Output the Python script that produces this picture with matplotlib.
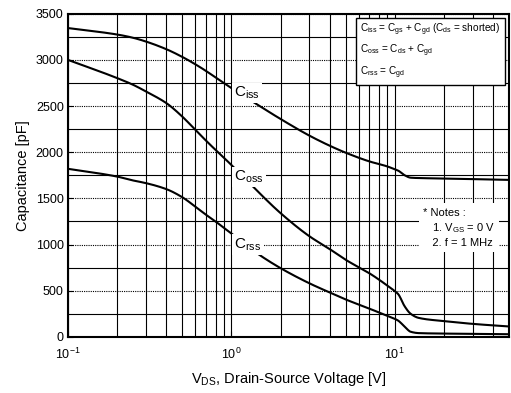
import matplotlib
matplotlib.use("Agg")
import matplotlib.pyplot as plt
from matplotlib.ticker import FixedLocator, LogLocator, NullFormatter
import numpy as np

plt.rcParams['font.family'] = ['Liberation Sans', 'DejaVu Sans']
plt.rcParams['mathtext.default'] = 'regular'

# Datos
vds_iss = [0.1, 0.2, 0.25, 0.3, 0.4, 0.5, 0.6, 0.7, 0.8, 0.9, 1.0, 1.4, 2.0, 3.0, 4.0, 5.0, 7.0, 9.0,
           10.0, 10.5, 11.5, 12.5, 14.0, 20.0, 50.0]
ciss = [3345, 3275, 3240, 3199, 3116, 3033, 2954, 2880, 2810, 2750, 2695, 2530, 2360, 2180, 2070, 1995, 1900, 1846,
        1815, 1800, 1750, 1724, 1720, 1715, 1700]

vds_oss = [0.1, 0.2, 0.25, 0.3, 0.4, 0.5, 0.6, 0.7, 0.8, 0.9, 1.0, 1.45, 2.0, 3.0, 4.0, 5.0, 7.0, 8.0, 9.0,
           10.0, 10.5, 11.5, 12.5, 14.0, 20.0, 30.0, 50.0]
coss = [3000, 2803, 2731, 2658, 2532, 2387, 2245, 2125, 2025, 1940, 1862, 1575, 1340, 1090, 950, 835, 688, 620, 555,
        495, 462, 330, 250, 205, 170, 140, 112]

vds_rss = [0.1, 0.2, 0.25, 0.3, 0.4, 0.5, 0.6, 0.7, 0.8, 0.9, 1.0, 1.45, 2.0, 3.0, 4.0, 5.0, 7.0, 8.0, 9.0,
           10.0, 10.5, 11.5, 12.5, 14.0, 20.0, 50.0]
crss = [1820, 1736, 1694, 1665, 1600, 1513, 1412, 1322, 1250, 1180, 1120, 900, 744, 580, 480, 405, 305, 264, 228,
        195, 175, 110, 55, 40, 35, 28]

y_ticks = [0, 500, 1000, 1500, 2000, 2500, 3000, 3500]


def pchip(x, y, xn):
    # interpolación cúbica monótona (Fritsch-Carlson) para suavizar la curva
    x = np.asarray(x, float)
    y = np.asarray(y, float)
    h = np.diff(x)
    d = np.diff(y) / h
    m = np.zeros_like(y)
    m[0], m[-1] = d[0], d[-1]
    for k in range(1, len(x) - 1):
        if d[k - 1] * d[k] > 0:
            w1 = 2 * h[k] + h[k - 1]
            w2 = h[k] + 2 * h[k - 1]
            m[k] = (w1 + w2) / (w1 / d[k - 1] + w2 / d[k])
    idx = np.clip(np.searchsorted(x, xn) - 1, 0, len(x) - 2)
    t = (xn - x[idx]) / h[idx]
    h00 = 2 * t**3 - 3 * t**2 + 1
    h10 = t**3 - 2 * t**2 + t
    h01 = -2 * t**3 + 3 * t**2
    h11 = t**3 - t**2
    return h00 * y[idx] + h10 * h[idx] * m[idx] + h01 * y[idx + 1] + h11 * h[idx] * m[idx + 1]


fig = plt.figure(figsize=(5.11, 3.93), dpi=100)
ax = fig.add_axes([0.133, 0.143, 0.863, 0.822])

# Curvas
for xs, ys in [(vds_iss, ciss), (vds_oss, coss), (vds_rss, crss)]:
    lx = np.log10(xs)
    xf = np.linspace(lx[0], lx[-1], 600)
    ax.plot(10 ** xf, pchip(lx, ys, xf), color='black', linewidth=1.5, zorder=3)

ax.set_xscale('log')
ax.set_xlim(0.1, 50)
ax.set_ylim(0, 3500)

# Rejilla
ax.yaxis.set_major_locator(FixedLocator(y_ticks))
ax.yaxis.set_minor_locator(FixedLocator([250, 750, 1250, 1750, 2250, 2750, 3250]))
ax.xaxis.set_major_locator(LogLocator(base=10, numticks=10))
ax.xaxis.set_minor_locator(LogLocator(base=10, subs=np.arange(2, 10), numticks=20))
ax.xaxis.set_minor_formatter(NullFormatter())
ax.grid(True, which='major', axis='y', color='black', linestyle=(0, (1, 1)), linewidth=0.8)
ax.grid(True, which='minor', axis='y', color='black', linestyle='-', linewidth=0.8)
ax.grid(True, which='both', axis='x', color='black', linestyle='-', linewidth=0.8)
ax.set_axisbelow(True)

ax.tick_params(which='both', direction='in', labelsize=9, pad=3)
ax.tick_params(axis='x', which='major', length=4, pad=7)
ax.tick_params(which='minor', length=2)
ax.tick_params(axis='y', which='minor', length=0)
for sp in ax.spines.values():
    sp.set_linewidth(1.5)

ax.set_xlabel('V$_{DS}$, Drain-Source Voltage [V]', fontsize=10.5, labelpad=6)
ax.set_ylabel('Capacitance [pF]', fontsize=10.5, labelpad=4)

# Etiquetas de curvas
bbox_w = dict(facecolor='white', edgecolor='none', pad=1.5)
ax.text(1.04, 2640, 'C$_{iss}$', fontsize=11, va='center', ha='left', bbox=bbox_w, zorder=4)
ax.text(1.04, 1730, 'C$_{oss}$', fontsize=11, va='center', ha='left', bbox=bbox_w, zorder=4)
ax.text(1.04, 1000, 'C$_{rss}$', fontsize=11, va='center', ha='left', bbox=bbox_w, zorder=4)

# Cuadro de fórmulas
ax.text(0.663, 0.975,
        'C$_{iss}$ = C$_{gs}$ + C$_{gd}$ (C$_{ds}$ = shorted)\n'
        'C$_{oss}$ = C$_{ds}$ + C$_{gd}$\n'
        'C$_{rss}$ = C$_{gd}$',
        transform=ax.transAxes, fontsize=7.2, va='top', ha='left', linespacing=1.45,
        bbox=dict(facecolor='white', edgecolor='black', linewidth=1, pad=3), zorder=5)

# Notas
ax.text(0.805, 0.40,
        '* Notes :\n   1. V$_{GS}$ = 0 V\n   2. f = 1 MHz',
        transform=ax.transAxes, fontsize=8, va='top', ha='left', linespacing=1.35,
        bbox=dict(facecolor='white', edgecolor='none', pad=3), zorder=5)

fig.savefig('out.png', dpi=100)
